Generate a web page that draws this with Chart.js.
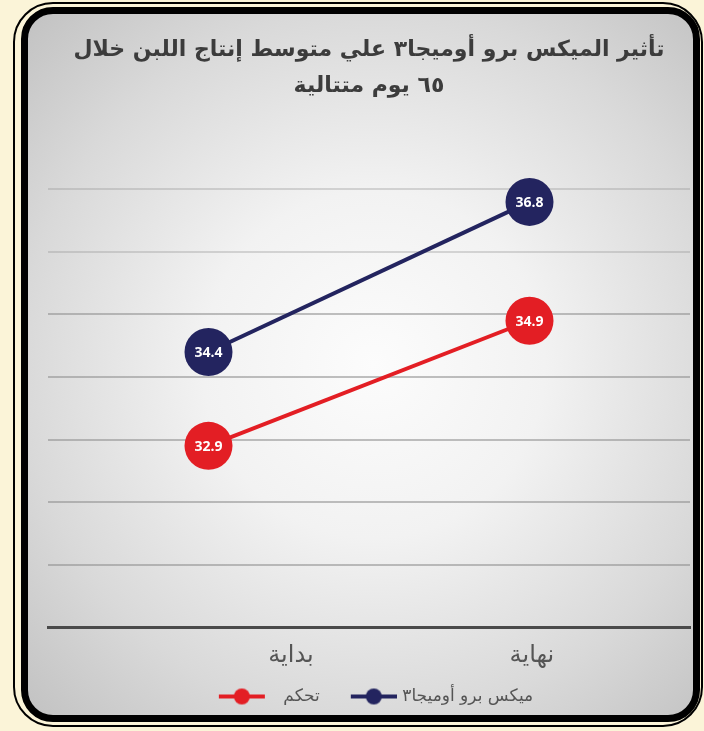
<!DOCTYPE html>
<html>
<head>
<meta charset="utf-8">
<script src="https://cdn.jsdelivr.net/npm/chart.js@4"></script>
<style>
  html, body { margin: 0; padding: 0; }
  body { width: 704px; height: 731px; background: #fbf4d8; position: relative; overflow: hidden; }
  #outer {
    position: absolute; left: 13px; top: 2px; width: 686px; height: 721px;
    border: 2px solid #000; border-radius: 40px;
  }
  #frame {
    position: absolute; left: 21px; top: 7px; width: 665px; height: 701px;
    border: 7px solid #000; border-radius: 32px;
    background: radial-gradient(ellipse at 52% 50%, #fcfcfc 0%, #f2f2f2 35%, #d9d9d9 72%, #c2c2c2 100%);
  }
  #wrap { position: absolute; left: 0; top: 0; width: 704px; height: 731px; }
</style>
</head>
<body>
<div id="outer"></div>
<div id="frame"></div>
<div id="wrap"><canvas id="milkChart"></canvas></div>
<script>
var titleLines = ['تأثير الميكس برو أوميجا٣ علي متوسط إنتاج اللبن خلال', '٦٥ يوم متتالية'];
var periods = ['بداية', 'نهاية'];
var controlName = 'تحكم';
var omegaName = 'ميكس برو أوميجا٣';
var controlValues = [32.9, 34.9];
var omegaValues = [34.4, 36.8];
var yMin = 30;
var yMax = 37;

var RED = '#e31e24';
var NAVY = '#23245f';

(function () {
    var el = document.getElementById('milkChart');
    if (!el || !window.Chart) return;

    // line + dot marker for the legend, with blank space either side to mimic the original spacing
    function legendMarker(color, left, right) {
        var c = document.createElement('canvas');
        c.width = left + 46 + right;
        c.height = 18;
        var g = c.getContext('2d');
        g.strokeStyle = color;
        g.lineWidth = 4;
        g.beginPath();
        g.moveTo(left, 9);
        g.lineTo(left + 46, 9);
        g.stroke();
        g.fillStyle = color;
        g.beginPath();
        g.arc(left + 23, 9, 8, 0, Math.PI * 2);
        g.fill();
        return c;
    }
    var markers = [legendMarker(RED, 14, 10), legendMarker(NAVY, 30, 0)];

    var valueLabels = {
        id: 'valueLabels',
        afterDatasetsDraw: function (chart) {
            var ctx = chart.ctx;
            ctx.save();
            ctx.font = 'bold 14px "Open Sans", "DejaVu Sans", sans-serif';
            ctx.fillStyle = '#ffffff';
            ctx.textAlign = 'center';
            ctx.textBaseline = 'middle';
            chart.data.datasets.forEach(function (ds, i) {
                var meta = chart.getDatasetMeta(i);
                meta.data.forEach(function (pt, j) {
                    ctx.fillText(ds.data[j].toFixed(1), pt.x, pt.y + 1);
                });
            });
            ctx.restore();
        }
    };

    new Chart(el.getContext('2d'), {
        type: 'line',
        data: {
            labels: periods,
            datasets: [
                {
                    label: controlName,
                    data: controlValues,
                    borderColor: RED,
                    backgroundColor: RED,
                    borderWidth: 4,
                    pointRadius: 24,
                    pointBorderWidth: 0,
                    pointBackgroundColor: RED,
                    tension: 0,
                    clip: false
                },
                {
                    label: omegaName,
                    data: omegaValues,
                    borderColor: NAVY,
                    backgroundColor: NAVY,
                    borderWidth: 4,
                    pointRadius: 24,
                    pointBorderWidth: 0,
                    pointBackgroundColor: NAVY,
                    tension: 0,
                    clip: false
                }
            ]
        },
        options: {
            responsive: true,
            maintainAspectRatio: false,
            animation: false,
            layout: { autoPadding: false, padding: { left: 48, right: 14, top: 0, bottom: 16 } },
            plugins: {
                tooltip: { enabled: false },
                title: {
                    display: true,
                    text: titleLines,
                    color: '#3c3c3c',
                    font: { family: '"DejaVu Sans", sans-serif', size: 22, weight: 'bold', lineHeight: 1.6 },
                    padding: { top: 33, bottom: 86 }
                },
                legend: {
                    position: 'bottom',
                    labels: {
                        color: '#555555',
                        font: { family: '"DejaVu Sans", sans-serif', size: 17 },
                        usePointStyle: true,
                        pointStyleWidth: 70,
                        boxHeight: 17,
                        padding: 4,
                        generateLabels: function (chart) {
                            var items = Chart.defaults.plugins.legend.labels.generateLabels(chart);
                            items.forEach(function (it, i) { it.pointStyle = markers[i]; });
                            return items;
                        }
                    }
                }
            },
            scales: {
                x: {
                    offset: true,
                    grid: { display: false, drawTicks: false },
                    border: { display: true, color: '#4a4a4a', width: 3 },
                    ticks: { display: false }
                },
                // separate axis for the category names, which sit right of the points in the original
                xLabels: {
                    type: 'linear',
                    position: 'bottom',
                    weight: 1,
                    min: -1.008,
                    max: 1.656,
                    grid: { display: false, drawTicks: false },
                    border: { display: false },
                    afterBuildTicks: function (scale) {
                        scale.ticks = periods.map(function (p, i) { return { value: i }; });
                    },
                    ticks: {
                        color: '#555555',
                        font: { family: '"DejaVu Sans", sans-serif', size: 24 },
                        padding: 14,
                        autoSkip: false,
                        maxRotation: 0,
                        callback: function (v) { return periods[v]; }
                    }
                },
                y: {
                    min: yMin,
                    max: yMax,
                    ticks: { display: false, stepSize: 1 },
                    border: { display: false },
                    grid: {
                        drawTicks: false,
                        lineWidth: 2,
                        color: function (c) {
                            return c.tick && c.tick.value >= 36 ? 'rgba(150,150,150,0.35)' : 'rgba(140,140,140,0.55)';
                        }
                    }
                }
            }
        },
        plugins: [valueLabels]
    });
})();
</script>
</body>
</html>
